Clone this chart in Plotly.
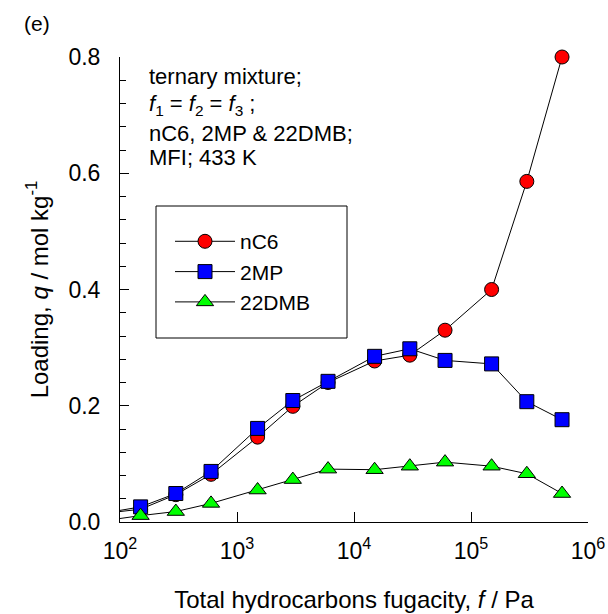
import plotly.graph_objects as go

# ---- data ----
fugacity = [150, 300, 600, 1500, 3000, 6000, 15000, 30000, 60000, 150000, 300000, 600000]
q_nC6 = [0.022, 0.047, 0.082, 0.146, 0.199, 0.240, 0.277, 0.287, 0.330, 0.400, 0.586, 0.800]
q_2MP = [0.026, 0.049, 0.087, 0.161, 0.209, 0.242, 0.285, 0.298, 0.278, 0.272, 0.207, 0.176]
q_22DMB = [0.011, 0.018, 0.032, 0.055, 0.073, 0.091, 0.090, 0.096, 0.103, 0.096, 0.083, 0.049]

# curves continue below the first plotted point down to the axis edge
fugacity_low = [100, 150]
q_nC6_low = [0.018, 0.022]
q_2MP_low = [0.020, 0.026]
q_22DMB_low = [0.006, 0.011]

series_names = ["nC6", "2MP", "22DMB"]
x_tickvals = [100, 1000, 10000, 100000, 1000000]
x_ticktext = ["10<sup>2</sup>", "10<sup>3</sup>", "10<sup>4</sup>", "10<sup>5</sup>", "10<sup>6</sup>"]
y_tickvals = [0.0, 0.2, 0.4, 0.6, 0.8]

FONT = "Liberation Sans, Arial, sans-serif"

fig = go.Figure()

styles = [
    (q_nC6, q_nC6_low, "circle", "#ff0000", 14),
    (q_2MP, q_2MP_low, "square", "#0000ff", 14),
    (q_22DMB, q_22DMB_low, "triangle-up", "#00ff00", 15),
]

for name, (yv, ylow, sym, col, sz) in zip(series_names, styles):
    fig.add_trace(go.Scatter(
        x=fugacity_low, y=ylow, mode="lines",
        line=dict(color="black", width=1), showlegend=False, hoverinfo="skip"))

for name, (yv, ylow, sym, col, sz) in zip(series_names, styles):
    fig.add_trace(go.Scatter(
        x=fugacity, y=yv, mode="lines+markers", name=name,
        line=dict(color="black", width=1),
        marker=dict(symbol=sym, color=col, size=sz, line=dict(color="black", width=1)),
        cliponaxis=False))

fig.update_layout(
    width=608, height=614,
    margin=dict(l=120, r=20, t=57, b=92, autoexpand=False),
    paper_bgcolor="white", plot_bgcolor="white",
    font=dict(family=FONT, size=22, color="black"),
    showlegend=True,
    legend=dict(
        x=(170 - 120) / 468, y=0.647, xanchor="left", yanchor="top",
        bgcolor="rgba(0,0,0,0)", borderwidth=0,
        font=dict(family=FONT, size=21),
        tracegroupgap=0, itemwidth=60,
    ),
    xaxis=dict(
        type="log", range=[2, 6], automargin=False,
        tickvals=x_tickvals, ticktext=x_ticktext,
        ticks="inside", ticklen=10, tickcolor="black",
        showline=True, linecolor="black", linewidth=1,
        showgrid=False, zeroline=False,
        tickfont=dict(size=23),
        ticklabelstandoff=8,
        title=dict(text="Total hydrocarbons fugacity, <i>f</i> / Pa", font=dict(size=24), standoff=28),
    ),
    yaxis=dict(
        range=[0, 0.8], automargin=False,
        tickvals=y_tickvals, tickformat=".1f",
        ticks="inside", ticklen=9, tickcolor="black",
        minor=dict(dtick=0.04, ticks="inside", ticklen=6, tickcolor="black"),
        showline=True, linecolor="black", linewidth=1,
        showgrid=False, zeroline=False,
        tickfont=dict(size=23),
        ticklabelstandoff=14,
        title=dict(text="Loading, <i>q</i> / mol kg<sup>-1</sup>", font=dict(size=24), standoff=13),
    ),
    shapes=[dict(type="rect", xref="paper", yref="paper",
                 x0=(156 - 120) / 468, x1=(347 - 120) / 468,
                 y0=(522 - 338) / 465, y1=(522 - 206) / 465,
                 line=dict(color="black", width=1), fillcolor="rgba(0,0,0,0)")],
)

notes = [
    ("ternary mixture;", 77),
    ("<i>f</i><sub>1</sub> = <i>f</i><sub>2</sub> = <i>f</i><sub>3</sub> ;", 105),
    ("nC6, 2MP &amp; 22DMB;", 133),
    ("MFI; 433 K", 157),
]
for txt, py in notes:
    fig.add_annotation(text=txt, xref="paper", yref="paper",
                       x=(146.7 - 120) / 468, y=(522 - py) / 465,
                       xanchor="left", yanchor="middle", showarrow=False,
                       font=dict(family=FONT, size=22))

fig.add_annotation(text="(e)", xref="paper", yref="paper",
                   x=(22 - 120) / 468, y=(522 - 24) / 465,
                   xanchor="left", yanchor="middle", showarrow=False,
                   font=dict(family=FONT, size=21))

fig.write_html("out.html", config={"displayModeBar": False},
               post_script="document.body.style.margin='0';")
